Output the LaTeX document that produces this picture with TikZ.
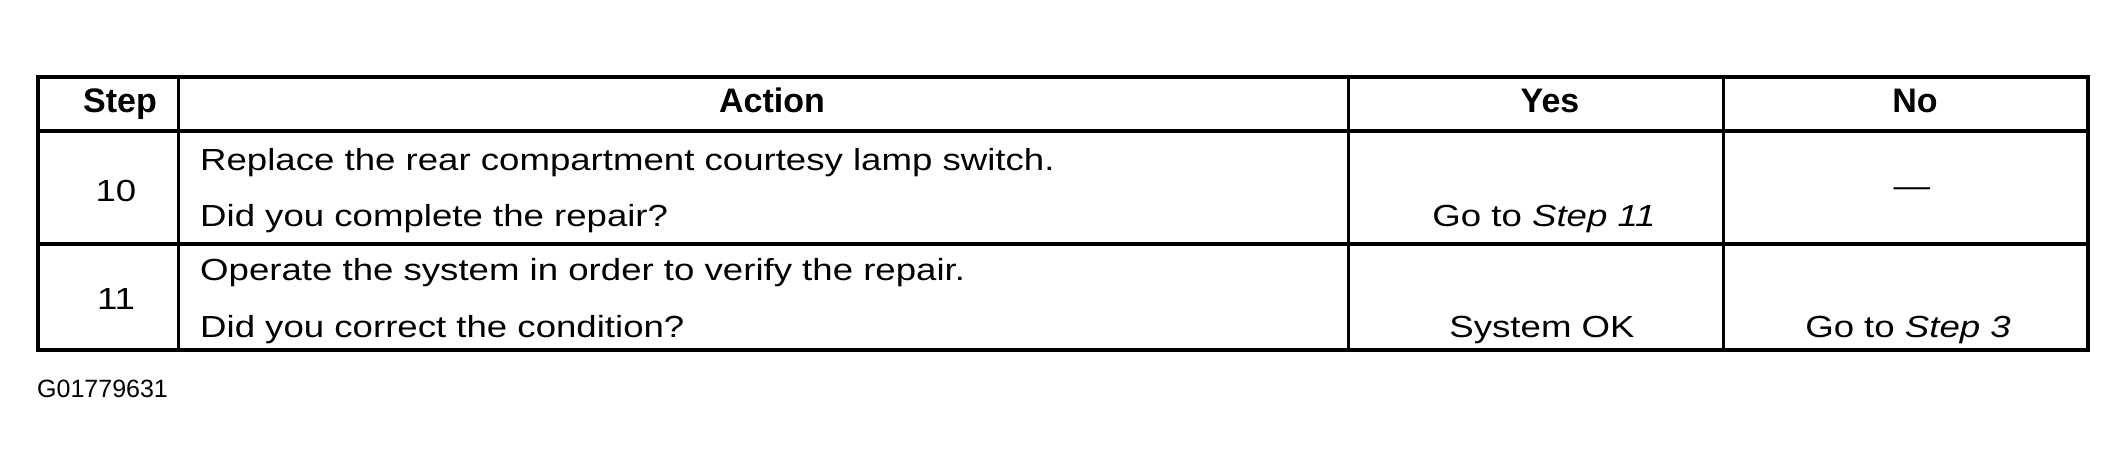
\documentclass[tikz,border=0pt]{standalone}
\usepackage{fontspec}
\setmainfont{Liberation Sans}[FakeStretch=1.2]
\newfontfamily\hdrfont{Liberation Sans}
\begin{document}
\begin{tikzpicture}[x=1pt,y=-1pt,
  txt/.style={font=\fontsize{30.5}{36}\selectfont, inner sep=0pt, anchor=base},
  ltxt/.style={txt, anchor=base west},
  hdr/.style={font=\hdrfont\fontsize{34}{40}\selectfont\bfseries, inner sep=0pt, anchor=base},
  lbl/.style={font=\hdrfont\fontsize{25}{30}\selectfont, inner sep=0pt, anchor=base west},
  hline/.style={line width=4.5pt},
  vline/.style={line width=3pt},
  frame/.style={line width=3.5pt}]
\useasboundingbox[fill=white] (0,0) rectangle (2124,471);
% grid
\draw[frame] (38,77) rectangle (2088,350);
\draw[hline] (38,131) -- (2088,131);
\draw[hline] (38,244) -- (2088,244);
\draw[vline] (178,77) -- (178,350);
\draw[vline] (1348,77) -- (1348,350);
\draw[vline] (1723,77) -- (1723,350);
% header
\node[hdr] (hstep) at (120,112) {Step};
\node[hdr] (haction) at (772,112) {Action};
\node[hdr] (hyes) at (1550,112) {Yes};
\node[hdr] (hno) at (1915,112) {No};
% row 10
\node[txt] (s10) at (116,201) {10};
\node[ltxt] (a10a) at (200,170) {Replace the rear compartment courtesy lamp switch.};
\node[ltxt] (a10b) at (200,226) {Did you complete the repair?};
\node[txt] (y10) at (1544,226) {Go to \textit{Step 11}};
\node[txt, anchor=center] (n10) at (1912,192) {—};
% row 11
\node[txt] (s11) at (116,309) {11};
\node[ltxt] (a11a) at (200,280) {Operate the system in order to verify the repair.};
\node[ltxt] (a11b) at (200,337) {Did you correct the condition?};
\node[txt] (y11) at (1542,337) {System OK};
\node[txt] (n11) at (1908,337) {Go to \textit{Step 3}};
% figure id
\node[lbl] (fig) at (37,397) {G01779631};
\end{tikzpicture}
\end{document}
